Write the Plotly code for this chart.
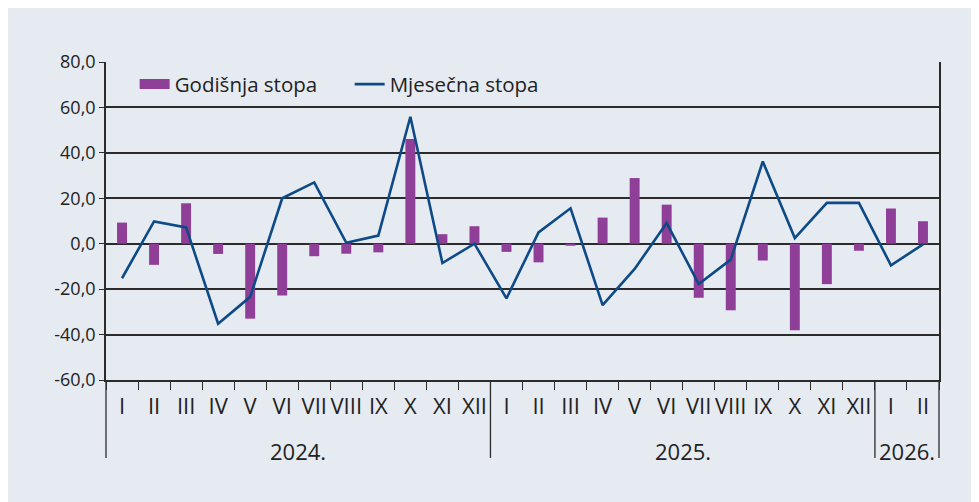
import plotly.graph_objects as go

years = ["2024."] * 12 + ["2025."] * 12 + ["2026."] * 2
months = ["I", "II", "III", "IV", "V", "VI", "VII", "VIII", "IX", "X", "XI", "XII"] * 2 + ["I", "II"]

godisnja = [9.3, -9.3, 17.8, -4.5, -33.0, -22.8, -5.5, -4.4, -3.8, 46.1, 4.2, 7.7,
            -3.6, -8.2, -0.9, 11.5, 28.9, 17.2, -23.8, -29.3, -7.4, -38.1, -17.8, -3.1,
            15.5, 9.9]
mjesecna = [-15.2, 9.8, 7.2, -35.2, -23.4, 20.0, 27.0, 0.4, 3.6, 55.9, -8.5, 0.0,
            -24.1, 5.0, 15.6, -27.0, -11.1, 9.1, -17.7, -7.0, 36.2, 2.5, 18.0, 18.0,
            -9.5, -0.3]

y_tickvals = [-60, -40, -20, 0, 20, 40, 60, 80]
y_ticktext = ["-60,0", "-40,0", "-20,0", "0,0", "20,0", "40,0", "60,0", "80,0"]

FONT = "Open Sans"
NARROW = "Liberation Sans Narrow, Open Sans"
BG = "#e6ebf2"
DARK = "#2b2b2b"
PURPLE = "#8f3f97"
BLUE = "#0d4a86"

keys = [f"{y} {m}" for y, m in zip(years, months)]
n = len(keys)

# year groups -> boundaries (paper fraction) and centres
groups = []
for i, y in enumerate(years):
    if not groups or groups[-1][0] != y:
        groups.append([y, i, i])
    groups[-1][2] = i + 1

fig = go.Figure()
fig.add_trace(go.Bar(x=keys, y=godisnja, name="Godišnja stopa",
                     legendgroup="g", showlegend=False,
                     marker=dict(color=PURPLE, line=dict(width=0))))
# legend entry only (wide swatch like the original)
fig.add_trace(go.Scatter(x=[None], y=[None], name="Godišnja stopa", legendgroup="g",
                         mode="lines", line=dict(color=PURPLE, width=11),
                         hoverinfo="skip"))
fig.add_trace(go.Scatter(x=keys, y=mjesecna, name="Mjesečna stopa",
                         mode="lines", line=dict(color=BLUE, width=2.6)))

shapes = []
bounds = sorted({g[1] for g in groups} | {g[2] for g in groups})
for b in bounds:
    shapes.append(dict(type="line", xref="paper", yref="paper",
                       x0=b / n, x1=b / n, y0=0, y1=-0.245,
                       line=dict(color=DARK, width=1.3)))
annotations = [dict(text=g[0], xref="paper", yref="paper", x=(g[1] + g[2]) / 2 / n,
                    y=-0.222, xanchor="center", yanchor="middle", showarrow=False,
                    font=dict(family=NARROW, size=22, color="#222"))
               for g in groups]

fig.update_layout(
    width=979, height=502,
    margin=dict(l=98, r=48, t=54, b=130),
    paper_bgcolor=BG, plot_bgcolor=BG,
    bargap=0.69,
    font=dict(family=FONT, size=18, color="#222"),
    showlegend=True,
    legend=dict(orientation="h", x=0.0344, y=0.93, xanchor="left", yanchor="middle",
                bgcolor="rgba(0,0,0,0)", font=dict(size=20.5, color="#222"),
                entrywidth=170, entrywidthmode="pixels", tracegroupgap=0),
    xaxis=dict(type="category", tickmode="array", tickvals=keys, ticktext=months,
               tickson="boundaries", showgrid=False, ticks="outside", ticklen=8,
               tickangle=0, ticklabelstandoff=6,
               tickcolor=DARK, tickwidth=1.3, showline=True, linecolor=DARK, linewidth=1.6,
               tickfont=dict(family=NARROW, size=22, color="#222")),
    xaxis2=dict(overlaying="x", anchor="free", position=60 / 140, range=[-0.5, n - 0.5],
                tickmode="linear", tick0=0.5, dtick=1, ticks="outside", ticklen=8,
                tickcolor=DARK, tickwidth=1.3, showticklabels=False, showgrid=False,
                showline=False, zeroline=False),
    yaxis=dict(range=[-60, 80], tickmode="array", tickvals=y_tickvals, ticktext=y_ticktext,
               showgrid=True,
               gridcolor=DARK, gridwidth=1.6, zeroline=True, zerolinecolor=DARK,
               zerolinewidth=1.6, showline=True, linecolor=DARK, linewidth=1.6,
               mirror=True, ticks="outside", ticklen=5, tickcolor=DARK,
               tickfont=dict(size=18, color="#222")),
    shapes=shapes,
    annotations=annotations,
)

fig.write_html("out.html")
